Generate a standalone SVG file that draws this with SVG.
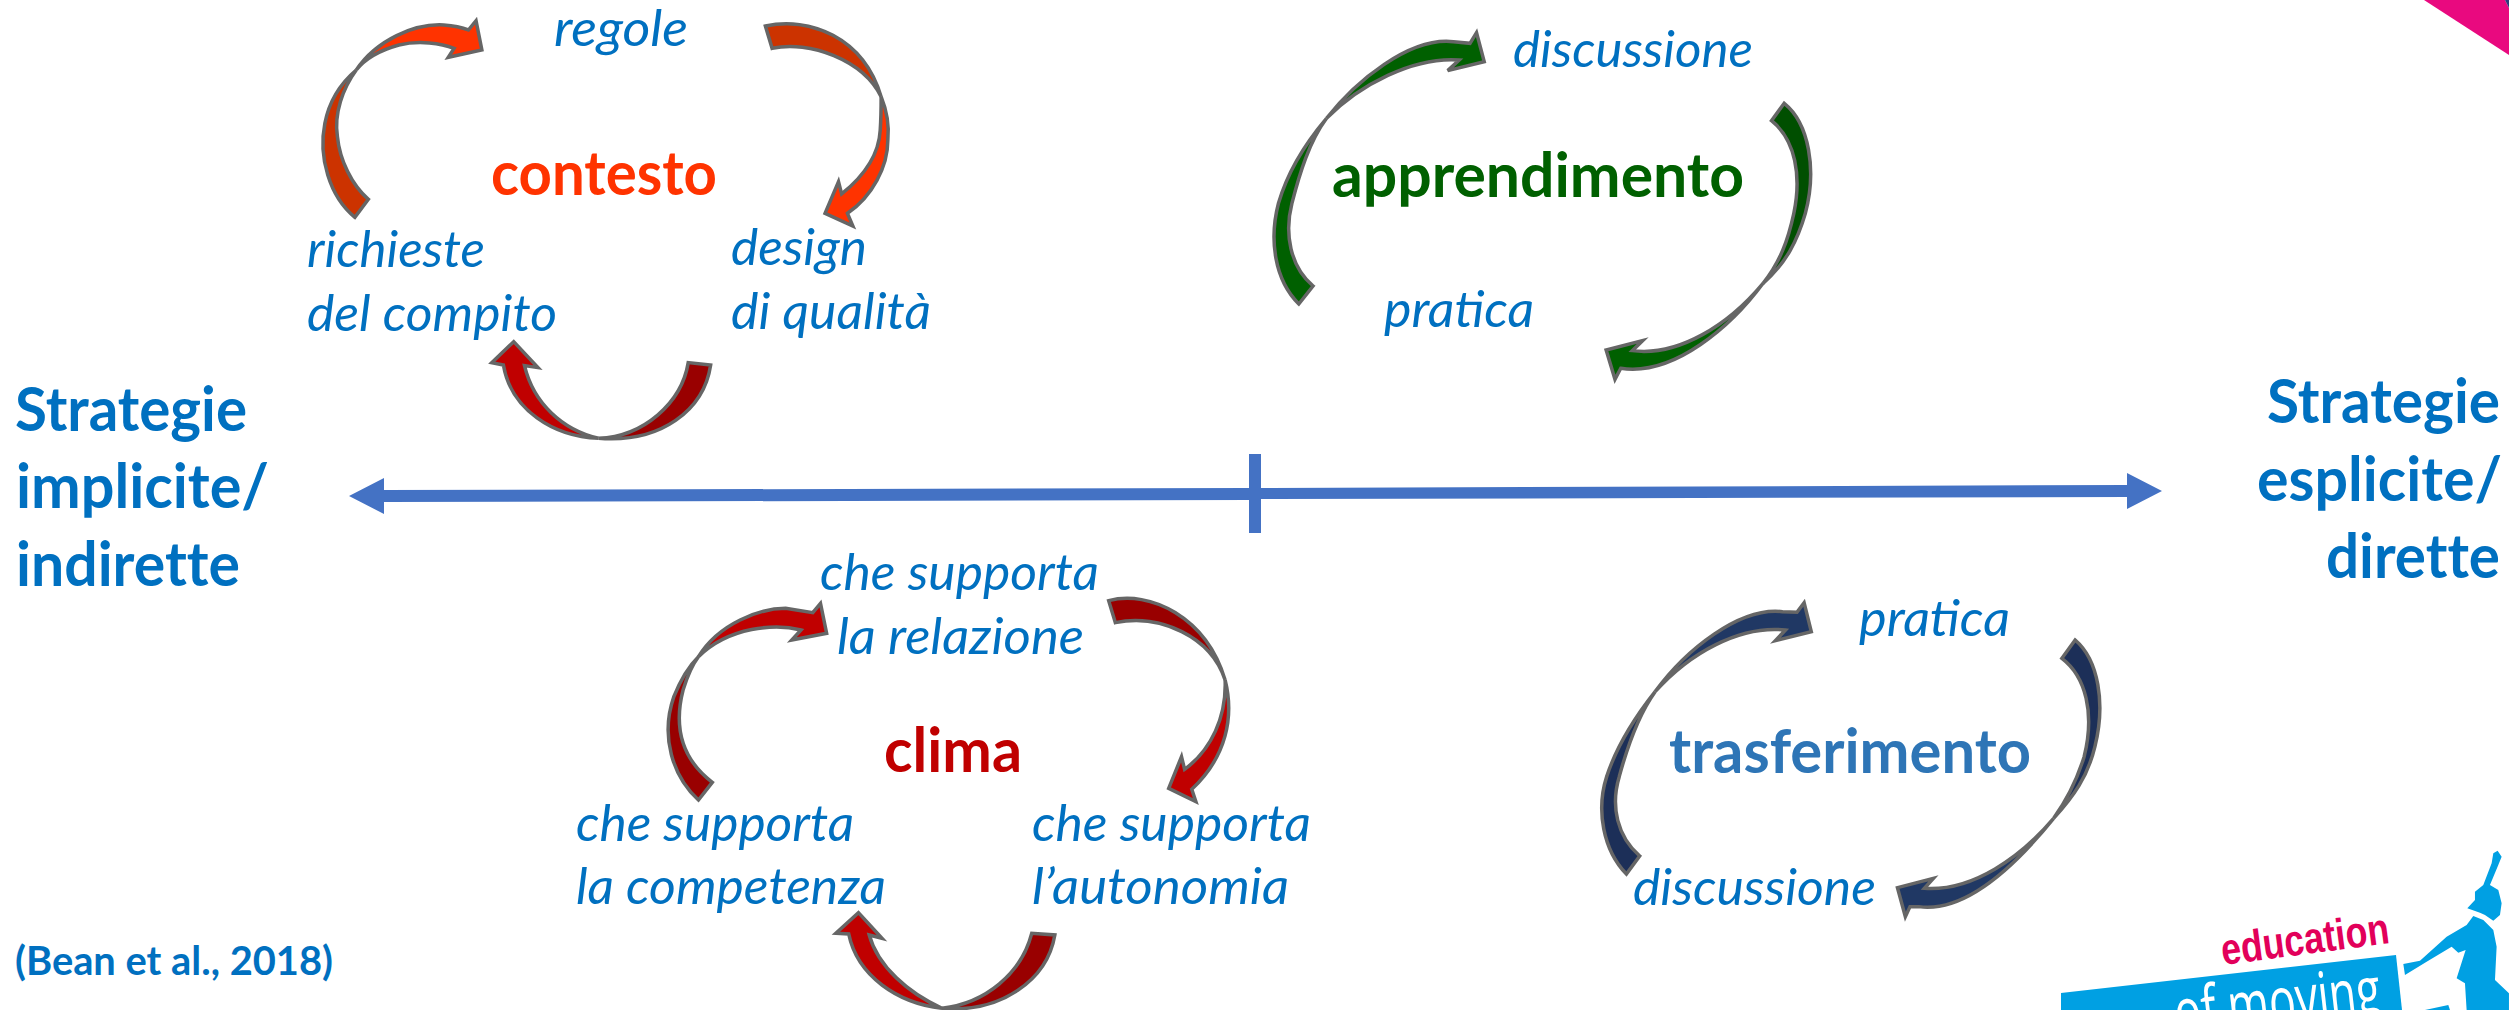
<svg xmlns="http://www.w3.org/2000/svg" width="2509" height="1010" viewBox="0 0 2509 1010">
<style>
text{font-family:Lato,"Liberation Sans",sans-serif}
.i{font-style:italic;font-size:51px;fill:#0070C0}
.b{font-weight:700;font-size:61px;fill:#0070C0;font-variant-ligatures:none}
.t{font-weight:700;font-size:62px;font-variant-ligatures:none}
.a path{stroke:#666;stroke-width:3.5;stroke-linejoin:miter;vector-effect:non-scaling-stroke}
.o1{fill:#CC3300}.o2{fill:#FF3300}.r1{fill:#990000}.r2{fill:#C00000}.g1{fill:#004F00}.g2{fill:#006000}.n1{fill:#1C2F58}.n2{fill:#203864}
.logo{fill:#00A0E3}
</style>
<rect width="2509" height="1010" fill="#fff"/>
<polygon points="2424,0 2505,0 2509,8 2509,55" fill="#E9097F"/>
<polygon points="2505,0 2509,0 2509,8" fill="#2F3B7C"/>
<g id="connectors">
<polygon id="axis" fill="#4472C4" points="349,496 384,478 384,490 1249,488 1249,454 1261,454 1261,488 2127,485 2127,473 2162,491 2127,509 2127,497 1261,499 1261,533 1249,533 1249,500 384,502 384,514"/>
<g class="a" transform="translate(280,0) scale(.4486,.3333)">
<path class="o1" d="M197,598L167,652C110,590 85,470 100,370C110,300 135,250 170,210C140,265 120,340 128,410C133,480 160,555 197,598Z"/>
<path class="o2" d="M170,210C215,120 300,70 365,75C385,77 405,82 420,90L437,62L450,150L375,172L388,145C360,130 310,120 265,135C225,150 190,175 170,210Z"/>
<path class="o1" d="M1082,78C1180,50 1300,110 1340,290C1300,180 1180,120 1097,145Z"/>
<path class="o2" d="M1340,290C1355,340 1358,380 1355,420C1355,500 1320,590 1265,640L1277,678L1215,640L1245,545L1252,582C1300,530 1335,470 1338,390C1340,350 1340,320 1340,290Z"/>
<path class="r1" d="M960,1095C945,1230 850,1330 710,1315C810,1310 895,1210 910,1088Z"/>
<path class="r2" d="M710,1315C610,1310 515,1230 498,1095L472,1088L521,1025L575,1103L545,1097C565,1210 630,1290 710,1315Z"/>
</g>
<g class="a" transform="translate(1240,0) scale(.3846,.3333)">
<path class="g2" d="M190,858L153,912C90,840 75,720 100,610C125,510 170,430 225,355C180,425 155,520 135,610C115,700 130,800 190,858Z"/>
<path class="g2" d="M225,355C300,245 440,110 555,125L598,130L615,98L635,185L540,212L570,180C450,170 310,255 225,355Z"/>
<path class="g1" d="M1415,310L1382,362C1445,420 1460,530 1440,640C1425,720 1405,785 1360,850C1420,790 1450,720 1470,640C1500,510 1480,370 1415,310Z"/>
<path class="g2" d="M1360,850C1280,975 1130,1130 990,1105L975,1138L952,1050L1047,1022L1020,1052C1140,1070 1270,975 1360,850Z"/>
</g>
<g class="a" transform="translate(560,530) scale(.5128,.3333)">
<path class="r1" d="M297,757L270,810C220,740 195,620 222,500C235,450 250,410 270,380C255,410 248,440 240,480C220,600 240,690 297,757Z"/>
<path class="r2" d="M270,380C310,280 390,235 440,235L493,248L508,220L520,310L452,330L470,300C420,280 330,290 270,380Z"/>
<path class="r1" d="M1070,212C1150,180 1260,260 1297,450C1270,320 1170,250 1083,278Z"/>
<path class="r2" d="M1297,450C1315,560 1300,680 1232,778L1240,815L1187,775L1212,680L1218,718C1270,660 1300,560 1297,450Z"/>
<path class="r1" d="M965,1215C950,1350 860,1450 745,1435C830,1420 900,1330 920,1210Z"/>
<path class="r2" d="M745,1435C660,1420 580,1340 563,1212L538,1210L582,1148L628,1225L603,1215C620,1310 680,1390 745,1435Z"/>
</g>
<g class="a" transform="translate(1560,570) scale(.359,.3333)">
<path class="n1" d="M222,858L185,912C120,840 100,720 130,620C160,520 210,440 265,365C215,440 185,540 165,620C140,710 160,800 222,858Z"/>
<path class="n2" d="M265,365C350,240 500,110 620,125L660,127L680,98L700,185L600,212L628,180C500,165 360,250 265,365Z"/>
<path class="n1" d="M1435,210L1398,265C1465,320 1490,430 1460,560C1440,630 1415,685 1375,745C1430,680 1470,620 1490,530C1520,400 1500,270 1435,210Z"/>
<path class="n2" d="M1375,745C1285,865 1140,1030 1000,1010L975,1010L962,1040L940,953L1040,925L1015,955C1150,965 1285,860 1375,745Z"/>
</g>
</g>
<g id="contesto" transform="translate(-2,0)">
<text class="t" fill="#FF3300" x="493" y="195" textLength="226" lengthAdjust="spacingAndGlyphs">contesto</text>
<text class="i" x="556" y="46" textLength="134" lengthAdjust="spacingAndGlyphs">regole</text>
<text class="i" x="309" y="267" textLength="178" lengthAdjust="spacingAndGlyphs">richieste</text>
<text class="i" x="309" y="331" textLength="250" lengthAdjust="spacingAndGlyphs">del compito</text>
<text class="i" x="733" y="265" textLength="136" lengthAdjust="spacingAndGlyphs">design</text>
<text class="i" x="733" y="329" textLength="200" lengthAdjust="spacingAndGlyphs">di qualità</text>
</g>
<g id="apprendimento" transform="translate(-2,0)">
<text class="t" fill="#006000" x="1334" y="197" textLength="412" lengthAdjust="spacingAndGlyphs">apprendimento</text>
<text class="i" x="1515" y="67" textLength="240" lengthAdjust="spacingAndGlyphs">discussione</text>
<text class="i" x="1386" y="327" textLength="150" lengthAdjust="spacingAndGlyphs">pratica</text>
</g>
<g id="clima" transform="translate(-2,0)">
<text class="t" fill="#C00000" x="886" y="772" textLength="138" lengthAdjust="spacingAndGlyphs">clima</text>
<text class="i" x="822" y="590" textLength="279" lengthAdjust="spacingAndGlyphs">che supporta</text>
<text class="i" x="839" y="654" textLength="247" lengthAdjust="spacingAndGlyphs">la relazione</text>
<text class="i" x="578" y="841" textLength="278" lengthAdjust="spacingAndGlyphs">che supporta</text>
<text class="i" x="578" y="904" textLength="310" lengthAdjust="spacingAndGlyphs">la competenza</text>
<text class="i" x="1034" y="841" textLength="279" lengthAdjust="spacingAndGlyphs">che supporta</text>
<text class="i" x="1034" y="904" textLength="257" lengthAdjust="spacingAndGlyphs">l’autonomia</text>
</g>
<g id="trasferimento" transform="translate(-2,0)">
<text class="t" fill="#2E75B6" x="1671" y="773" textLength="362" lengthAdjust="spacingAndGlyphs">trasferimento</text>
<text class="i" x="1861" y="636" textLength="151" lengthAdjust="spacingAndGlyphs">pratica</text>
<text class="i" x="1635" y="905" textLength="243" lengthAdjust="spacingAndGlyphs">discussione</text>
</g>
<g id="strategie-implicite" transform="translate(-2,0)">
<text class="b" x="17" y="431" textLength="232" lengthAdjust="spacingAndGlyphs">Strategie</text>
<text class="b" x="18" y="508" textLength="253" lengthAdjust="spacingAndGlyphs">implicite/</text>
<text class="b" x="18" y="586" textLength="224" lengthAdjust="spacingAndGlyphs">indirette</text>
</g>
<g id="strategie-esplicite" transform="translate(-1,0)">
<text class="b" x="2268" y="423" textLength="233" lengthAdjust="spacingAndGlyphs">Strategie</text>
<text class="b" x="2258" y="501" textLength="245" lengthAdjust="spacingAndGlyphs">esplicite/</text>
<text class="b" x="2327" y="578" textLength="174" lengthAdjust="spacingAndGlyphs">dirette</text>
</g>
<g id="citation">
<text x="15" y="975" font-size="41" font-weight="700" fill="#0070C0" textLength="318" lengthAdjust="spacingAndGlyphs">(Bean et al., 2018)</text>
</g>
<g id="logo">
<polygon class="logo" points="2061,993 2396,955 2402,1010 2061,1010"/>
<text transform="translate(2223,965) rotate(-7.5)" style="font-family:'Liberation Sans',sans-serif" font-size="44" font-weight="700" fill="#E2005A" textLength="169" lengthAdjust="spacingAndGlyphs">education</text>
<text transform="translate(2177,1036) rotate(-6.5)" style="font-family:'Open Sans',sans-serif" font-size="66" font-weight="400" fill="#fff" textLength="207" lengthAdjust="spacingAndGlyphs">of moving</text>
<g transform="translate(2150,830) scale(.3333)">
<path class="logo" d="M1043,62L1055,80L1045,105L1020,165L1045,180L1055,220L1050,255L1030,272L1005,255L990,248L952,235L975,210L975,185L1000,165L1025,100L1030,70Z"/>
<path class="logo" d="M970,258L1000,270L1030,300L1040,350L1035,450L1077,490V540H950L945,460L920,445L947,360L925,368L905,350L830,395L765,435L760,402L810,392L890,320L950,285Z"/>
<path class="logo" d="M825,540L895,525L900,540Z"/>
</g>
</g>
</svg>
